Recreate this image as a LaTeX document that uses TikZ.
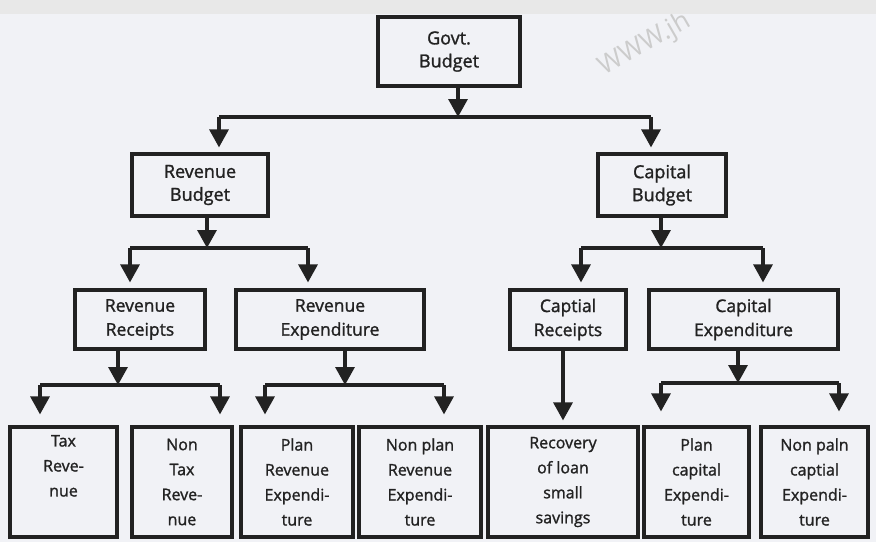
\documentclass[tikz,border=0pt]{standalone}
\usepackage{fontspec}
\setmainfont{Open Sans}
\newfontfamily\diag{Open Sans}[FakeBold=1.4]
\usetikzlibrary{arrows.meta,calc}
\definecolor{bg}{HTML}{F1F2F6}
\definecolor{ink}{HTML}{222222}
\begin{document}
\begin{tikzpicture}[x=1pt,y=-1pt,
  box/.style={draw=ink, line width=3.2pt, rectangle, align=center, inner sep=0pt, text=ink},
  topbox/.style={box, font=\diag\fontsize{18}{23}\selectfont},
  midbox/.style={box, font=\diag\fontsize{17.5}{24}\selectfont, minimum height=59pt},
  leafbox/.style={box, font=\diag\fontsize{16}{25}\selectfont, minimum height=110pt},
  link/.style={draw=ink, line width=3.2pt},
  arr/.style={link, -{Triangle[width=19pt,length=18pt]}},
]
\useasboundingbox (0,0) rectangle (876,542);
\fill[bg] (0,0) rectangle (876,542);
\fill[gray!18] (0,0) rectangle (876,14);

\node[rotate=30, text=gray!40, font=\fontsize{26}{26}\selectfont] (wm) at (645,45) {WWW.jh};

% level 0
\node[topbox, minimum width=142pt, minimum height=69pt] (govt) at (449,51.5) {Govt.\\Budget};
% level 1
\node[topbox, minimum width=136pt, minimum height=62pt] (rb) at (200,185) {Revenue\\Budget};
\node[topbox, minimum width=128pt, minimum height=62pt] (cb) at (662,185) {Capital\\Budget};
% level 2
\node[midbox, minimum width=130pt] (rr) at (140,319.5) {Revenue\\Receipts};
\node[midbox, minimum width=188pt] (re) at (330,319.5) {Revenue\\Expenditure};
\node[midbox, minimum width=116pt] (cr) at (568,319.5) {Captial\\Receipts};
\node[midbox, minimum width=189pt] (ce) at (743.5,319.5) {Capital\\Expenditure};
% level 3
\node[leafbox, minimum width=107pt] (tax) at (63.5,482) {Tax\\Reve-\\nue\\\strut};
\node[leafbox, minimum width=100pt] (ntax) at (182,482) {Non\\Tax\\Reve-\\nue};
\node[leafbox, minimum width=112pt] (pre) at (297,482) {Plan\\Revenue\\Expendi-\\ture};
\node[leafbox, minimum width=122pt] (npre) at (420,482) {Non plan\\Revenue\\Expendi-\\ture};
\node[leafbox, minimum width=150pt] (rec) at (563,482) {Recovery\\of loan\\small\\savings};
\node[leafbox, minimum width=105pt] (pce) at (696.5,482) {Plan\\capital\\Expendi-\\ture};
\node[leafbox, minimum width=107pt] (npce) at (814.5,482) {Non paln\\captial\\Expendi-\\ture};

% junctions
\coordinate (j0) at (458,117);
\coordinate (j0l) at (219,117);
\coordinate (j0r) at (651,117);
\coordinate (j1) at (207,248);
\coordinate (j1l) at (130,248);
\coordinate (j1r) at (308,248);
\coordinate (j2) at (661,248);
\coordinate (j2l) at (581,248);
\coordinate (j2r) at (763,248);
\coordinate (j3) at (118,385);
\coordinate (j3l) at (40,385);
\coordinate (j3r) at (220,385);
\coordinate (j4) at (345,385);
\coordinate (j4l) at (265,385);
\coordinate (j4r) at (444,385);
\coordinate (j5) at (738,383);
\coordinate (j5l) at (661,383);
\coordinate (j5r) at (839,383);
\coordinate (crx) at (563,0);

% govt
\draw[arr] (j0 |- govt.south) -- (j0);
\draw[link] (j0l) -- (j0r);
\draw[arr, shorten >=5pt] (j0l) -- (j0l |- rb.north);
\draw[arr, shorten >=5pt] (j0r) -- (j0r |- cb.north);
% revenue budget
\draw[arr] (j1 |- rb.south) -- (j1);
\draw[link] (j1l) -- (j1r);
\draw[arr, shorten >=6pt] (j1l) -- (j1l |- rr.north);
\draw[arr, shorten >=6pt] (j1r) -- (j1r |- re.north);
% capital budget
\draw[arr] (j2 |- cb.south) -- (j2);
\draw[link] (j2l) -- (j2r);
\draw[arr, shorten >=6pt] (j2l) -- (j2l |- cr.north);
\draw[arr, shorten >=6pt] (j2r) -- (j2r |- ce.north);
% revenue receipts
\draw[arr] (j3 |- rr.south) -- (j3);
\draw[link] (j3l) -- (j3r);
\draw[arr, shorten >=11pt] (j3l) -- (j3l |- tax.north);
\draw[arr, shorten >=11pt] (j3r) -- (j3r |- ntax.north);
% revenue expenditure
\draw[arr] (j4 |- re.south) -- (j4);
\draw[link] (j4l) -- (j4r);
\draw[arr, shorten >=11pt] (j4l) -- (j4l |- pre.north);
\draw[arr, shorten >=11pt] (j4r) -- (j4r |- npre.north);
% capital receipts
\draw[arr, shorten >=5pt] (crx |- cr.south) -- (crx |- rec.north);
% capital expenditure
\draw[arr] (j5 |- ce.south) -- (j5);
\draw[link] (j5l) -- (j5r);
\draw[arr, shorten >=14pt] (j5l) -- (j5l |- pce.north);
\draw[arr, shorten >=14pt] (j5r) -- (j5r |- npce.north);
\end{tikzpicture}
\end{document}
